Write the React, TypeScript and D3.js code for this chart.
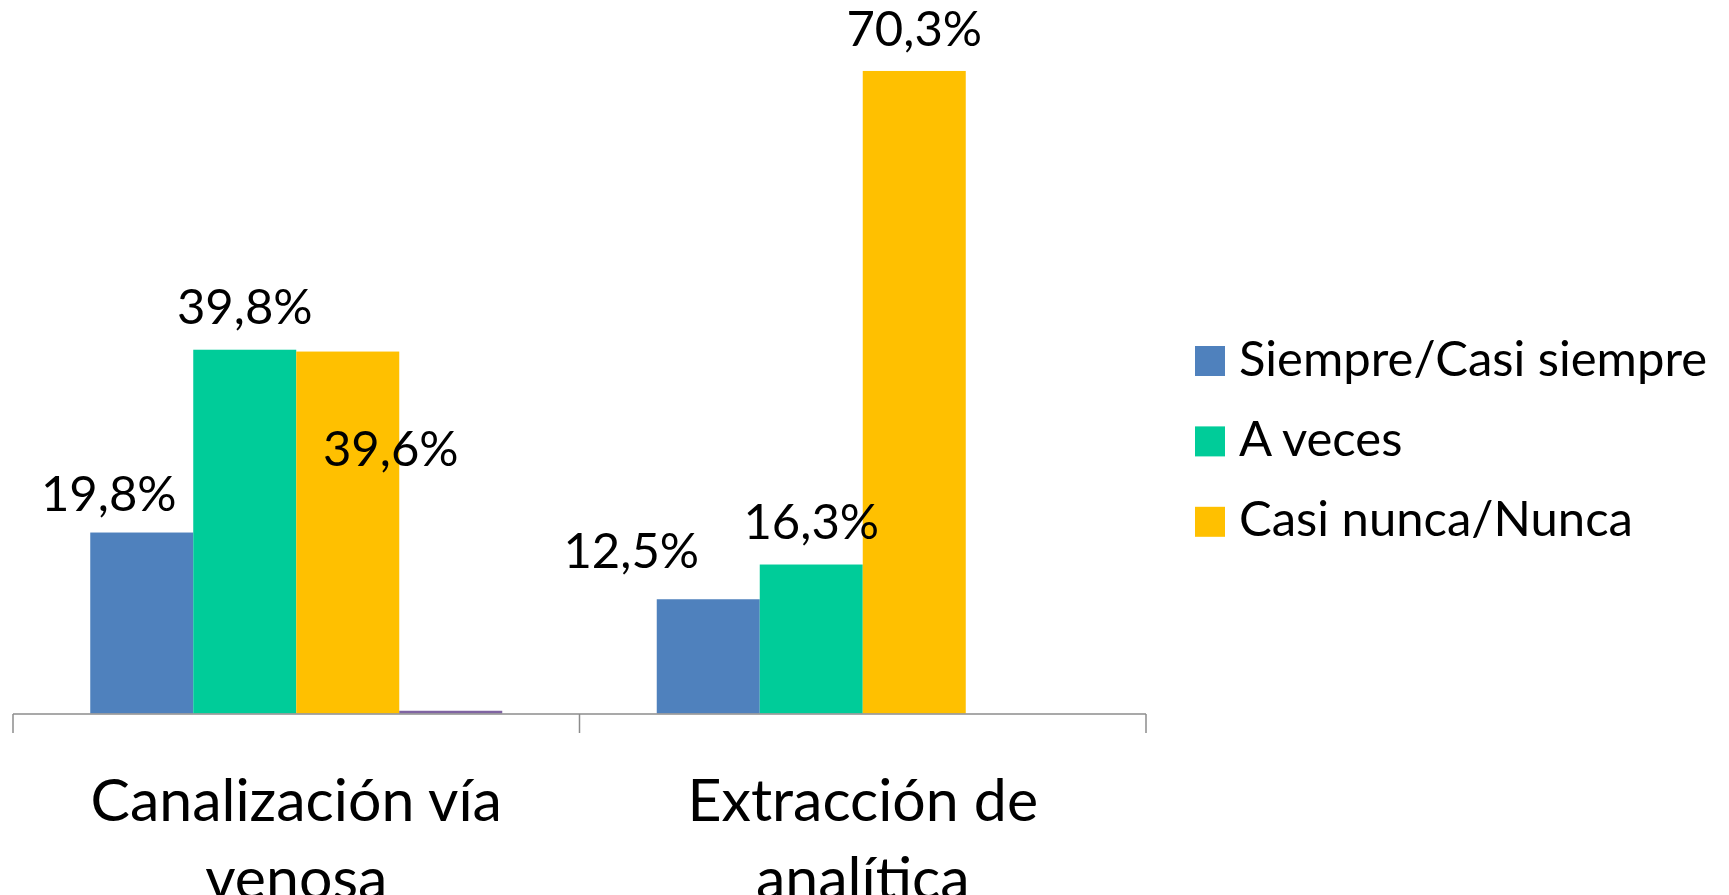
import React from "react";
import * as d3 from "d3";

const categories: string[][] = [
  ["Canalización vía", "venosa"],
  ["Extracción de", "analítica"],
];
const seriesNames = ["Siempre/Casi siempre", "A veces", "Casi nunca/Nunca", ""];
const seriesColors = ["#4F81BD", "#00CC99", "#FFC000", "#8064A2"];
const siempre = [19.8, 12.5];
const aVeces = [39.8, 16.3];
const casiNunca = [39.6, 70.3];
const otros = [0.3, 0];
const valueLabels: string[][] = [
  ["19,8%", "12,5%"],
  ["39,8%", "16,3%"],
  ["39,6%", "70,3%"],
  ["", ""],
];
// manual label nudges (dx, dy from bar centre / bar top)
const labelNudges: [number, number][][] = [
  [[-33, -22], [-77, -31]],
  [[0, -26], [0, -26]],
  [[43, 114], [0, -25]],
  [[0, 0], [0, 0]],
];

const W = 1729;
const H = 895;
const FONT = "Lato, 'Open Sans', sans-serif";

export default function App() {
  const series = [siempre, aVeces, casiNunca, otros];
  const x0 = d3
    .scaleBand<number>()
    .domain(categories.map((_, i) => i))
    .range([13, 1146])
    .paddingInner(0)
    .paddingOuter(0);
  const bandW = x0.bandwidth();
  // Excel gap width 150% → inner bars occupy 4/5.5 of band
  const barW = bandW / 5.5;
  const x1 = d3
    .scaleBand<number>()
    .domain(series.map((_, i) => i))
    .range([0.75 * barW, bandW - 0.75 * barW])
    .padding(0);
  const y = d3.scaleLinear().domain([0, 80]).range([713.5, -17.7]);

  return (
    <svg
      width={W}
      height={H}
      style={{ position: "absolute", left: 0, top: 0, background: "#fff" }}
      fontFamily={FONT}
    >
      {series.map((vals, s) =>
        vals.map((v, c) => {
          if (v <= 0) return null;
          const bx = (x0(c) as number) + (x1(s) as number);
          return (
            <rect
              key={`b${s}-${c}`}
              x={bx}
              y={y(v)}
              width={x1.bandwidth()}
              height={y(0) - y(v)}
              fill={seriesColors[s]}
            />
          );
        })
      )}
      {/* axis */}
      <line x1={13} x2={1146} y1={714} y2={714} stroke="#8C8C8C" strokeWidth={1.5} />
      {[0, 1, 2].map((i) => {
        const tx = i < 2 ? (x0(i) as number) : 1146;
        return (
          <line key={`t${i}`} x1={tx} x2={tx} y1={714} y2={733} stroke="#8C8C8C" strokeWidth={1.5} />
        );
      })}
      {/* value labels */}
      {series.map((vals, s) =>
        vals.map((v, c) => {
          const txt = valueLabels[s][c];
          if (!txt) return null;
          const cx = (x0(c) as number) + (x1(s) as number) + x1.bandwidth() / 2;
          const [dx, dy] = labelNudges[s][c];
          return (
            <text
              key={`l${s}-${c}`}
              x={cx + dx}
              y={y(v) + dy}
              textAnchor="middle"
              fontSize={49}
              fill="#000"
            >
              {txt}
            </text>
          );
        })
      )}
      {/* category labels */}
      {categories.map((lines, c) => (
        <text
          key={`c${c}`}
          x={(x0(c) as number) + bandW / 2}
          y={821}
          textAnchor="middle"
          fontSize={59}
          fill="#000"
        >
          {lines.map((ln, k) => (
            <tspan key={k} x={(x0(c) as number) + bandW / 2} y={821 + k * 78}>
              {ln}
            </tspan>
          ))}
        </text>
      ))}
      {/* legend */}
      {seriesNames.slice(0, 3).map((name, i) => (
        <g key={`lg${i}`} transform={`translate(1195, ${346 + i * 80.4})`}>
          <rect x={0} y={0} width={30} height={30} fill={seriesColors[i]} />
          <text x={44} y={29.5} fontSize={49} fill="#000">
            {name}
          </text>
        </g>
      ))}
    </svg>
  );
}
